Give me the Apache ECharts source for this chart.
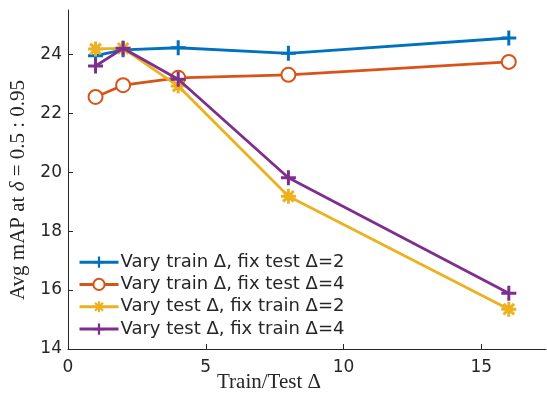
<!DOCTYPE html>
<html>
<head>
<meta charset="utf-8">
<script src="https://cdn.jsdelivr.net/npm/echarts@6/dist/echarts.min.js"></script>
<style>html,body{margin:0;padding:0;background:#fff}#c{width:547px;height:399px}</style>
</head>
<body>
<div id="c"></div>
<script>
var xValues = [1, 2, 4, 8, 16];
var seriesNames = ['Vary train \u0394, fix test \u0394=2', 'Vary train \u0394, fix test \u0394=4', 'Vary test \u0394, fix train \u0394=2', 'Vary test \u0394, fix train \u0394=4'];
var trainFix2 = [23.95, 24.15, 24.22, 24.03, 24.55];
var trainFix4 = [22.55, 22.95, 23.2, 23.3, 23.74];
var testFix2 = [24.18, 24.2, 22.92, 19.18, 15.35];
var testFix4 = [23.6, 24.2, 23.15, 19.81, 15.89];
var colors = ['#0072BD', '#D95319', '#EDB120', '#7E2F8E'];

var t = 0.2;
var pts = [[-t,-1],[t,-1],[t,-t],[1,-t],[1,t],[t,t],[t,1],[-t,1],[-t,t],[-1,t],[-1,-t],[-t,-t]];
function toPath(p) { return p.map(function (q) { return q[0].toFixed(3) + ',' + q[1].toFixed(3); }).join(' L'); }
var plusPath = 'path://M' + toPath(pts) + ' Z';
var c45 = Math.SQRT1_2;
var rp = pts.map(function (p) { return [(p[0] - p[1]) * c45, (p[0] + p[1]) * c45]; });
var starPath = 'path://M' + toPath(pts) + ' Z M' + toPath(rp) + ' Z';

function pairs(vals) { return xValues.map(function (x, i) { return [x, vals[i]]; }); }

var chart = echarts.init(document.getElementById('c'), null, {renderer: 'canvas'});
var mk = [
  {data: trainFix2, symbol: plusPath, size: 15},
  {data: trainFix4, symbol: 'emptyCircle', size: 14},
  {data: testFix2, symbol: starPath, size: 15},
  {data: testFix4, symbol: plusPath, size: 15}
];
chart.setOption({
  animation: false,
  backgroundColor: '#fff',
  grid: {left: 68, right: 1, top: 10, bottom: 50},
  xAxis: {
    type: 'value', min: 0, max: 17.35, interval: 5,
    axisLine: {lineStyle: {color: '#262626', width: 1}},
    axisTick: {inside: true, length: 5, lineStyle: {color: '#262626'}},
    axisLabel: {showMaxLabel: false, color: '#262626', fontFamily: 'DejaVu Sans', fontSize: 17, margin: 10},
    splitLine: {show: false}
  },
  yAxis: {
    type: 'value', min: 14, max: 25.5, interval: 2,
    axisLine: {show: true, lineStyle: {color: '#262626', width: 1}},
    axisTick: {show: true, inside: true, length: 5, lineStyle: {color: '#262626'}},
    axisLabel: {showMaxLabel: false, color: '#262626', fontFamily: 'DejaVu Sans', fontSize: 17, margin: 6},
    splitLine: {show: false}
  },
  legend: {
    orient: 'vertical', left: 78, top: 251, padding: 0,
    itemWidth: 39, itemHeight: 14, itemGap: 0,
    lineStyle: {width: 3},
    textStyle: {fontFamily: 'DejaVu Sans', fontSize: 18, lineHeight: 22.3, height: 22.3, color: '#262626', padding: [0, 0, 0, -3]},
    data: seriesNames
  },
  graphic: [
    {type: 'text', left: 217, top: 372, style: {text: 'Train/Test \u0394', fontFamily: 'Liberation Serif', fontSize: 21, fill: '#262626'}},
    {type: 'text', x: 8, y: 190, rotation: Math.PI / 2, style: {
      text: '{n|Avg mAP at }{i|\u03B4}{n| = 0.5 : 0.95}', align: 'center', verticalAlign: 'top',
      rich: {n: {fontFamily: 'Liberation Serif', fontSize: 21, fill: '#262626'}, i: {fontFamily: 'Liberation Serif', fontStyle: 'italic', fontSize: 21, fill: '#262626'}}
    }}
  ],
  series: mk.map(function (m, i) {
    return {
      name: seriesNames[i], type: 'line', data: pairs(m.data),
      symbol: m.symbol, symbolSize: m.size, showAllSymbol: true,
      lineStyle: {color: colors[i], width: 2.8},
      itemStyle: {color: colors[i], borderColor: colors[i], borderWidth: i === 1 ? 2.8 : 0},
      z: 2 + i
    };
  })
});
</script>
</body>
</html>
